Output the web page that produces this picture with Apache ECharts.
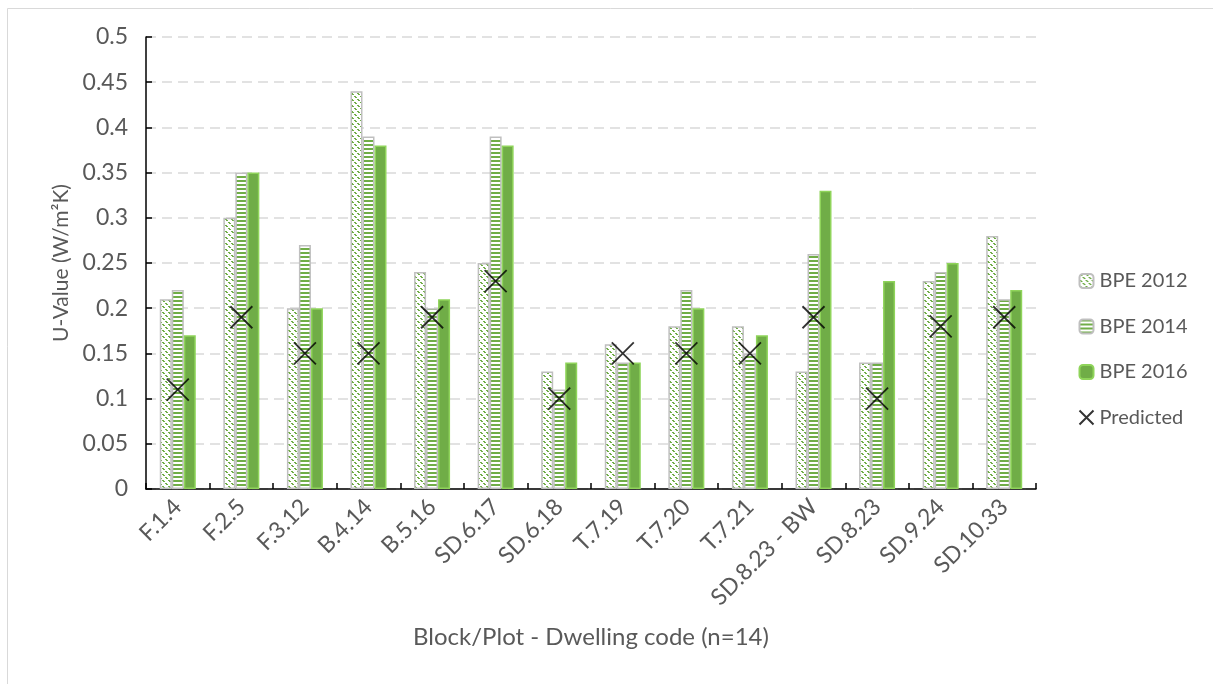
<!DOCTYPE html>
<html>
<head>
<meta charset="utf-8">
<script src="https://cdn.jsdelivr.net/npm/echarts@6/dist/echarts.min.js"></script>
<style>
html,body{margin:0;padding:0;background:#fff;}
#chart{width:1213px;height:684px;}
</style>
</head>
<body>
<div id="chart"></div>
<script>
const categories = ['F.1.4','F.2.5','F.3.12','B.4.14','B.5.16','SD.6.17','SD.6.18','T.7.19','T.7.20','T.7.21','SD.8.23 - BW','SD.8.23','SD.9.24','SD.10.33'];
const bpe2012 = [0.21,0.30,0.20,0.44,0.24,0.25,0.13,0.16,0.18,0.18,0.13,0.14,0.23,0.28];
const bpe2014 = [0.22,0.35,0.27,0.39,0.20,0.39,0.11,0.14,0.22,0.15,0.26,0.14,0.24,0.21];
const bpe2016 = [0.17,0.35,0.20,0.38,0.21,0.38,0.14,0.14,0.20,0.17,0.33,0.23,0.25,0.22];
const predicted = [0.11,0.19,0.15,0.15,0.19,0.23,0.10,0.15,0.15,0.15,0.19,0.10,0.18,0.19];
const yTicks = [0,0.05,0.1,0.15,0.2,0.25,0.3,0.35,0.4,0.45,0.5];

const GREEN = '#70ad47';
function diagPattern(){
  const c = document.createElement('canvas'); c.width = 6; c.height = 6;
  const ctx = c.getContext('2d');
  ctx.fillStyle = '#fff'; ctx.fillRect(0,0,6,6);
  const img = ctx.getImageData(0,0,6,6);
  for (let y=0;y<6;y++) for (let x=0;x<6;x++){
    const d = ((x - y) % 6 + 6) % 6;
    const s = (x + y) % 6;
    if ((d===0 || d===1) && s < 4){
      const i = (y*6+x)*4;
      img.data[i]=0x70; img.data[i+1]=0xad; img.data[i+2]=0x47; img.data[i+3]=255;
    }
  }
  ctx.putImageData(img,0,0);
  return c;
}
function stripePattern(){
  const c = document.createElement('canvas'); c.width = 4; c.height = 4;
  const ctx = c.getContext('2d');
  ctx.fillStyle = '#fff'; ctx.fillRect(0,0,4,4);
  ctx.fillStyle = GREEN; ctx.fillRect(0,0,4,2);
  return c;
}
const FONT = 'Lato';
const TXT = '#595959';
const chart = echarts.init(document.getElementById('chart'));
chart.setOption({
  backgroundColor: '#fff',
  animation: false,
  textStyle: {fontFamily: FONT},
  graphic: [{type:'rect', shape:{x:7.5,y:8.5,width:1300,height:800}, style:{fill:'none', stroke:'#d9d9d9', lineWidth:1}, silent:true}],
  grid: {left:146, right:177, top:37, bottom:195},
  legend: {
    orient: 'vertical', left: 1077, top: 271, padding: 0, itemGap: 25.5, itemWidth: 14, itemHeight: 14,
    textStyle: {fontFamily: FONT, fontSize: 20, color: TXT, padding: [0,0,0,1]},
    data: ['BPE 2012','BPE 2014','BPE 2016','Predicted']
  },
  xAxis: {
    type: 'category', data: categories,
    name: 'Block/Plot - Dwelling code (n=14)', nameLocation: 'middle', nameGap: 136,
    nameTextStyle: {fontFamily: FONT, fontSize: 24, color: TXT},
    axisLine: {lineStyle: {color:'#000', width:1.5}},
    axisTick: {show:true, inside:true, length:6, lineStyle:{color:'#000', width:1.5}},
    axisLabel: {rotate: 45, fontSize: 23, color: TXT, fontFamily: FONT, margin: 14, interval: 0}
  },
  yAxis: {
    type: 'value', min: 0, max: 0.5, interval: 0.05,
    name: 'U-Value (W/m²K)', nameLocation: 'middle', nameGap: 67,
    nameTextStyle: {fontFamily: FONT, fontSize: 21, color: TXT},
    axisLine: {show:true, lineStyle: {color:'#000', width:1.5}},
    axisTick: {show:true, inside:true, length:6, lineStyle:{color:'#000', width:1.5}},
    axisLabel: {fontSize: 23, color: TXT, fontFamily: FONT, margin: 18,
      formatter: v => { const t = yTicks.find(k => Math.abs(k - v) < 1e-9); return String(t !== undefined ? t : v); }},
    splitLine: {lineStyle: {color:'#d9d9d9', width:1.5, type:[10,6]}}
  },
  series: [
    {name:'BPE 2012', type:'bar', data:bpe2012, barWidth:12, barGap:'0%',
     itemStyle:{color:{image:diagPattern(), repeat:'repeat'}, borderColor:'#bfbfbf', borderWidth:1.5}},
    {name:'BPE 2014', type:'bar', data:bpe2014, barWidth:12, barGap:'0%',
     itemStyle:{color:{image:stripePattern(), repeat:'repeat'}, borderColor:'#bfbfbf', borderWidth:1.5}},
    {name:'BPE 2016', type:'bar', data:bpe2016, barWidth:12, barGap:'0%',
     itemStyle:{color:GREEN, borderColor:'#8fd45a', borderWidth:1.5}},
    {name:'Predicted', type:'scatter', data:predicted, symbol:'path://M0,0L20,20M20,0L0,20', symbolSize:22, z:5,
     itemStyle:{color:'none', borderColor:'#000', borderWidth:1.8}}
  ]
});
</script>
</body>
</html>
